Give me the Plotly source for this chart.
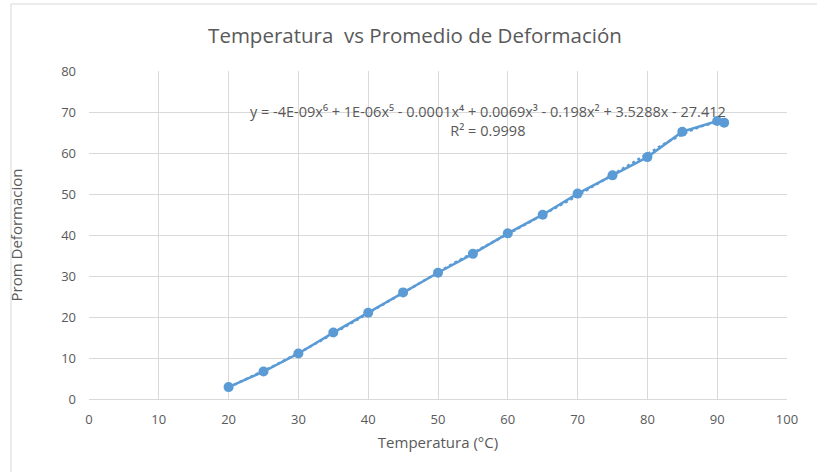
import numpy as np
import plotly.graph_objects as go

temperatura = [20, 25, 30, 35, 40, 45, 50, 55, 60, 65, 70, 75, 80, 85, 90, 91]
prom_deformacion = [2.9, 6.7, 11.1, 16.2, 21.05, 26.0, 30.8, 35.4, 40.4, 44.95,
                    50.1, 54.55, 59.0, 65.2, 67.8, 67.4]
x_ticks = list(range(0, 101, 10))
y_ticks = list(range(0, 81, 10))
title_text = "Temperatura  vs Promedio de Deformación"
equation_text = ("y = -4E-09x⁶ + 1E-06x⁵ - 0.0001x⁴ + 0.0069x³"
                 " - 0.198x² + 3.5288x - 27.412<br>R² = 0.9998")

color = "#5B9BD5"
txt = "#595959"
font_family = "Open Sans, Liberation Sans, sans-serif"

# polynomial trendline (order 6) fitted to the data
coefs = np.polyfit(temperatura, prom_deformacion, 6)
xt = np.linspace(min(temperatura), max(temperatura), 300)
yt = np.polyval(coefs, xt)

fig = go.Figure()
fig.add_trace(go.Scatter(x=xt, y=yt, mode="lines",
                         line=dict(color=color, width=2.5, dash="dot"),
                         hoverinfo="skip", showlegend=False))
fig.add_trace(go.Scatter(x=temperatura, y=prom_deformacion, mode="lines+markers",
                         line=dict(color=color, width=2.5),
                         marker=dict(color=color, size=10),
                         showlegend=False))

W, H = 817, 472
L, R, T, B = 89, 30, 71, 73
pw, ph = W - L - R, H - T - B

fig.update_layout(
    width=W, height=H,
    margin=dict(l=L, r=R, t=T, b=B),
    paper_bgcolor="white", plot_bgcolor="white",
    font=dict(family=font_family, color=txt, size=13),
    title=dict(text=title_text, x=(415 - L) / pw, xref="paper", xanchor="center",
               y=1 - 36 / H, yanchor="middle",
               font=dict(size=20.5, color=txt, family=font_family)),
    xaxis=dict(range=[0, 100], tickvals=x_ticks, showgrid=True, gridcolor="#D9D9D9",
               gridwidth=1, zeroline=False, showline=True, linecolor="#D9D9D9",
               ticks="", ticklabelstandoff=8, tickfont=dict(size=13, color=txt),
               title=dict(text="Temperatura (°C)", font=dict(size=15, color=txt), standoff=10)),
    yaxis=dict(range=[0, 80], tickvals=y_ticks, showgrid=True, gridcolor="#D9D9D9",
               gridwidth=1, zeroline=False, showline=False,
               ticks="", ticklabelstandoff=12, tickfont=dict(size=13, color=txt),
               title=dict(text="Prom Deformacion", font=dict(size=15, color=txt), standoff=34)),
    annotations=[dict(x=57.2, y=67.7, xref="x", yref="y", text=equation_text,
                      showarrow=False, align="center", xanchor="center", yanchor="middle",
                      font=dict(size=14.5, color=txt, family=font_family))],
    shapes=[dict(type="rect", xref="paper", yref="paper",
                 x0=(11 - L) / pw, x1=(W + 5 - L) / pw,
                 y0=-(H + 5 - T - ph) / ph, y1=1 + (T - 4) / ph,
                 line=dict(color="#D9D9D9", width=1), layer="below")],
)

fig.write_html("out.html", config={"displayModeBar": False},
               post_script="document.body.style.margin='0';document.body.style.padding='0';")
